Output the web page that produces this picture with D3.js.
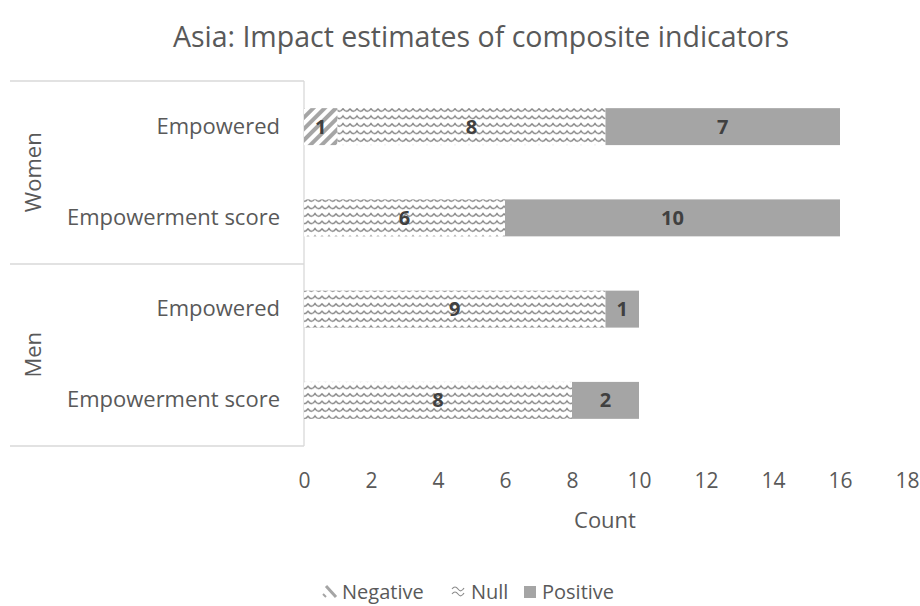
<!DOCTYPE html>
<html>
<head>
<meta charset="utf-8">
<script src="https://cdn.jsdelivr.net/npm/d3@7"></script>
<style>
  body { margin: 0; background: #fff; }
  text { font-family: "Open Sans", "Noto Sans", sans-serif; }
</style>
</head>
<body>
<svg id="chart" width="920" height="606"></svg>
<script>
// Rows from top to bottom: group + indicator
const groups = ["Women", "Women", "Men", "Men"];
const indicators = ["Empowered", "Empowerment score", "Empowered", "Empowerment score"];
const seriesNames = ["Negative", "Null", "Positive"];
const negative = [1, 0, 0, 0];
const nullVals = [8, 6, 9, 8];
const positive = [7, 10, 1, 2];
const xTicks = [0, 2, 4, 6, 8, 10, 12, 14, 16, 18];

const rows = indicators.map((name, i) => ({
  key: i, group: groups[i], name,
  Negative: negative[i], Null: nullVals[i], Positive: positive[i]
}));

const svg = d3.select("#chart");
const margin = { left: 304, right: 13 };
const W = 920;
const textColor = "#595959";

const x = d3.scaleLinear().domain([0, 18]).range([margin.left, W - margin.right]);
const y = d3.scaleBand().domain(rows.map(r => r.key)).range([81, 446]).paddingInner(0.595).paddingOuter(0.2975);

// Fill patterns
const defs = svg.append("defs");
const neg = defs.append("pattern").attr("id", "pNeg").attr("patternUnits", "userSpaceOnUse")
  .attr("width", 8).attr("height", 8).attr("patternTransform", "rotate(45)");
neg.append("rect").attr("width", 8).attr("height", 8).attr("fill", "#fff");
neg.append("rect").attr("x", 0).attr("width", 4).attr("height", 8).attr("fill", "#a5a5a5");

const wv = defs.append("pattern").attr("id", "pNull").attr("patternUnits", "userSpaceOnUse")
  .attr("width", 14).attr("height", 7.5).attr("y", 2);
wv.append("rect").attr("width", 14).attr("height", 7.5).attr("fill", "#fff");
wv.append("path").attr("d", "M0,1.5 Q3.5,7 7,1.5 Q10.5,7 14,1.5")
  .attr("fill", "none").attr("stroke", "#7f7f7f").attr("stroke-width", 1.4);

const fills = { Negative: "url(#pNeg)", Null: "url(#pNull)", Positive: "#a5a5a5" };

// Title
svg.append("text").attr("x", 481).attr("y", 47).attr("text-anchor", "middle")
  .attr("font-size", 28.5).attr("fill", textColor)
  .text("Asia: Impact estimates of composite indicators");

// Category frame lines
const gridColor = "#d9d9d9";
[81, 264, 446].forEach(yy => {
  svg.append("line").attr("x1", 10).attr("x2", margin.left).attr("y1", yy).attr("y2", yy)
    .attr("stroke", gridColor).attr("stroke-width", 1.3);
});
svg.append("line").attr("x1", margin.left).attr("x2", margin.left).attr("y1", 81).attr("y2", 446)
  .attr("stroke", gridColor).attr("stroke-width", 1.3);

// Stacked bars
const stack = d3.stack().keys(seriesNames)(rows);
const gBars = svg.append("g");
stack.forEach(layer => {
  gBars.selectAll(null).data(layer.filter(d => d[1] - d[0] > 0)).join("rect")
    .attr("x", d => x(d[0]))
    .attr("y", d => y(d.data.key))
    .attr("width", d => x(d[1]) - x(d[0]))
    .attr("height", y.bandwidth())
    .attr("fill", fills[layer.key]);
});
stack.forEach(layer => {
  gBars.selectAll(null).data(layer.filter(d => d[1] - d[0] > 0)).join("text")
    .attr("x", d => (x(d[0]) + x(d[1])) / 2)
    .attr("y", d => y(d.data.key) + y.bandwidth() / 2 + 7)
    .attr("text-anchor", "middle")
    .attr("font-size", 20).attr("font-weight", "bold").attr("fill", "#404040")
    .text(d => d[1] - d[0]);
});

// Indicator labels
svg.selectAll(null).data(rows).join("text")
  .attr("x", 280).attr("y", d => y(d.key) + y.bandwidth() / 2 + 7)
  .attr("text-anchor", "end").attr("font-size", 22).attr("fill", textColor)
  .text(d => d.name);

// Group labels (rotated)
const groupNames = ["Women", "Men"];
groupNames.forEach(g => {
  const keys = rows.filter(r => r.group === g).map(r => r.key);
  const cy = (y(keys[0]) + y(keys[keys.length - 1]) + y.bandwidth()) / 2;
  svg.append("text").attr("transform", `translate(41,${cy}) rotate(-90)`)
    .attr("text-anchor", "middle").attr("font-size", 22).attr("fill", textColor)
    .text(g);
});

// X axis
const xAxis = svg.append("g").attr("transform", "translate(0,446)")
  .call(d3.axisBottom(x).tickValues(xTicks).tickSize(0).tickPadding(27));
xAxis.select(".domain").remove();
xAxis.selectAll("text").attr("font-size", 21).attr("fill", textColor)
  .attr("font-family", "'Open Sans', 'Noto Sans', sans-serif");

svg.append("text").attr("x", 605).attr("y", 528).attr("text-anchor", "middle")
  .attr("font-size", 22).attr("fill", textColor).text("Count");

// Legend
const legendX = [322, 451, 524];
const leg = svg.append("g");
seriesNames.forEach((s, i) => {
  const lx = legendX[i];
  const item = leg.append("g").attr("transform", `translate(${lx},584)`);
  if (s === "Negative") {
    item.append("path").attr("d", "M4,2 L14,13").attr("stroke", "#a5a5a5").attr("stroke-width", 3);
    item.append("path").attr("d", "M1,10 L4,13").attr("stroke", "#a5a5a5").attr("stroke-width", 2);
  } else if (s === "Null") {
    item.append("path").attr("d", "M1,5 Q4,1 7,5 Q10,9 13,4").attr("fill", "none").attr("stroke", "#8c8c8c").attr("stroke-width", 1.2);
    item.append("path").attr("d", "M1,10 Q4,6 7,10 Q10,14 13,9").attr("fill", "none").attr("stroke", "#8c8c8c").attr("stroke-width", 1.2);
  } else {
    item.append("rect").attr("x", 0).attr("y", 2).attr("width", 12).attr("height", 12).attr("fill", "#a5a5a5");
  }
  item.append("text").attr("x", s === "Positive" ? 18 : 20).attr("y", 15).attr("font-size", 20).attr("fill", textColor).text(s);
});
</script>
</body>
</html>
